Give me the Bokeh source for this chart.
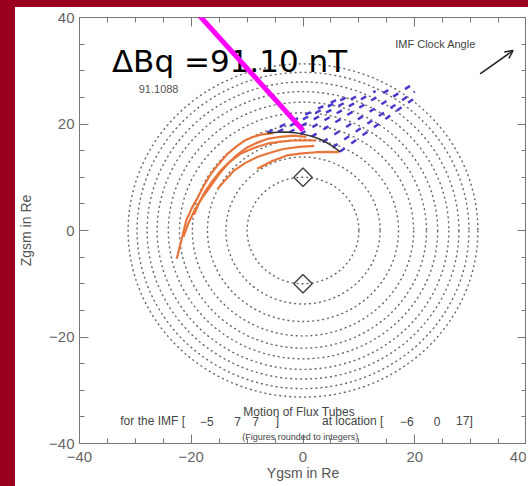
from bokeh.plotting import figure
from bokeh.models import (Label, Arrow, OpenHead, LinearAxis, FixedTicker,
                          CustomJSTickFormatter, Range1d)
from bokeh.layouts import column
from bokeh.embed import file_html
from bokeh.resources import INLINE

# ---------------- data ----------------
major_ticks = [-40, -20, 0, 20, 40]
minor_ticks = list(range(-40, 41, 5))

circle_radii = [10, 13.8, 17.1, 19.8, 22.1, 24.1, 26.1, 27.9, 29.7, 31.3]

orange_x = [
    [-22.6, -21.7, -20.9, -19.9, -18.8, -17.7, -16.5, -15.0, -13.5, -12.0, -10.6, -9.1, -7.6, -5.3],
    [-21.4, -20.5, -19.4, -18.0, -16.5, -15.0, -13.5, -11.8, -10.0, -8.2, -6.4, -4.0, -1.7, 0.6],
    [-19.5, -18.6, -17.6, -16.2, -14.7, -13.0, -11.2, -8.8, -6.4, -4.0, -1.7, 0.4, 2.4],
    [-15.3, -13.8, -12.3, -10.3, -8.2, -5.9, -3.5, -0.7, 2.0],
    [-8.2, -5.6, -2.9, -0.2, 2.4, 4.5, 6.5],
]
orange_y = [
    [-5.3, -1.6, 1.9, 4.2, 6.3, 8.5, 10.6, 12.6, 14.4, 15.7, 16.8, 17.5, 18.0, 18.3],
    [-1.2, 1.4, 3.8, 6.2, 8.4, 10.6, 12.5, 14.2, 15.6, 16.5, 17.2, 17.6, 17.8, 17.6],
    [3.0, 5.2, 7.2, 9.3, 11.3, 13.0, 14.4, 15.5, 16.3, 16.7, 16.9, 16.95, 16.9],
    [7.8, 9.6, 11.3, 12.7, 13.8, 14.6, 15.3, 15.7, 15.9],
    [11.6, 13.0, 14.1, 14.5, 14.7, 14.75, 14.7],
]

tube_x = [-6.4, -4.6, -3.0, -1.4, 0.0, 1.9, 3.6, 5.2, 6.6]
tube_y = [18.3, 18.45, 18.5, 18.35, 18.1, 17.6, 16.9, 15.9, 14.8]

motion_x0 = [-6.4, -4.5, -2.5, -0.5, 1.5, 3.5, 5.3, 6.6]
motion_y0 = [18.4, 18.5, 18.4, 18.1, 17.6, 16.6, 15.6, 14.8]
motion_x1 = [7.0, 8.1, 10.3, 13.0, 16.1, 19.5, 20.0, 20.0]
motion_y1 = [25.0, 25.2, 25.6, 26.2, 26.9, 27.4, 26.1, 24.9]

diamond_x = [0, 0]
diamond_y = [10, -10]

imf = [-5, 7, 7]
location = [-6, 0, 17]
delta_bq = 91.10
raw_value = "91.1088"

RED = "#9b001f"
GRAY = "#666666"
TXT = "#444444"
FONT = "Liberation Sans"

# ---------------- figure ----------------
p = figure(width=511, height=479, x_range=Range1d(-40, 40), y_range=Range1d(-40, 40),
           output_backend="svg", toolbar_location=None,
           min_border_left=62, min_border_top=10, min_border_bottom=43, min_border_right=0,
           background_fill_color="white", border_fill_color="white")
p.margin = (7, 0, 0, 15)
p.grid.visible = False
p.outline_line_color = "#777777"
p.outline_line_width = 1

fmt = CustomJSTickFormatter(code="return tick < 0 ? '\u2212' + Math.abs(tick) : String(tick);")
blank = CustomJSTickFormatter(code="return '';")

def style_axis(ax, labels=True):
    ax.ticker = FixedTicker(ticks=major_ticks, minor_ticks=minor_ticks)
    ax.formatter = fmt if labels else blank
    ax.axis_line_color = "#777777"
    ax.major_tick_line_color = "#777777"
    ax.minor_tick_line_color = "#777777"
    ax.major_tick_in = 9
    ax.major_tick_out = 0
    ax.minor_tick_in = 5
    ax.minor_tick_out = 0
    ax.major_label_text_font = FONT
    ax.major_label_text_color = GRAY
    ax.major_label_text_font_size = "15px" if labels else "1px"
    ax.axis_label_text_font = FONT
    ax.axis_label_text_font_style = "normal"
    ax.axis_label_text_color = "#555555"
    ax.axis_label_text_font_size = "14px"

style_axis(p.xaxis[0])
style_axis(p.yaxis[0])
p.xaxis[0].axis_label = "Ygsm in Re"
p.yaxis[0].axis_label = "Zgsm in Re"
p.xaxis[0].major_label_standoff = 8
p.xaxis[0].axis_label_standoff = 0
p.yaxis[0].major_label_standoff = 5
p.yaxis[0].axis_label_standoff = 12

top_ax = LinearAxis()
right_ax = LinearAxis()
for ax in (top_ax, right_ax):
    style_axis(ax, labels=False)
    ax.major_label_standoff = 0
    ax.axis_label_standoff = 0
p.add_layout(top_ax, "above")
p.add_layout(right_ax, "right")

# dotted circles
n = len(circle_radii)
p.ellipse(x=[0] * n, y=[0] * n, width=[2 * r for r in circle_radii],
          height=[2 * r for r in circle_radii], fill_alpha=0,
          line_color="#666666", line_dash="2 3", line_width=1.4)

# later flux tube positions (blue dashes)
p.segment(x0=motion_x0, y0=motion_y0, x1=motion_x1, y1=motion_y1,
          line_color="#4b3bcc", line_width=2.5, line_dash="6 8")

# orange flux tubes
p.multi_line(xs=orange_x, ys=orange_y, line_color="#e8763c", line_width=2.2)

# black tube
p.line(tube_x, tube_y, line_color="#333333", line_width=1.5)

# diamonds
p.scatter(diamond_x, diamond_y, marker="square", angle=0.785398, size=13,
          fill_alpha=0, line_color="#444444", line_width=1.5)

# texts
p.add_layout(Label(x=-34.2, y=31.9, text="\u0394Bq =%.2f nT" % delta_bq,
                   text_font="DejaVu Sans", text_font_size="31px",
                   text_baseline="middle", text_color="black"))
p.add_layout(Label(x=-29.4, y=26.6, text=raw_value, text_font=FONT,
                   text_font_size="11px", text_baseline="middle", text_color="#555555"))
p.add_layout(Label(x=16.5, y=35.1, text="IMF Clock Angle", text_font=FONT,
                   text_font_size="11px", text_baseline="middle", text_color=TXT))
p.add_layout(Arrow(x_start=31.7, y_start=29.4, x_end=37.6, y_end=33.8,
                   line_color="#222222", line_width=1.5,
                   end=OpenHead(size=8, line_color="#222222", line_width=1.5)))

def small(x, y, text, align="left", size="12px"):
    p.add_layout(Label(x=x, y=y, text=text, text_font=FONT, text_font_size=size,
                       text_align=align, text_baseline="middle", text_color=TXT))

def num(v):
    return str(v).replace("-", "\u2212")

small(-0.7, -34.0, "Motion of Flux Tubes", align="center")
small(-32.7, -35.8, "for the IMF [")
for xv, v in zip([-17.2, -11.7, -8.5], imf):
    small(xv, -35.8, num(v), align="center")
small(-4.6, -35.8, "]", align="center")
small(3.4, -35.8, "at location [")
small(18.6, -35.8, num(location[0]), align="center")
small(24.0, -35.8, num(location[1]), align="center")
small(27.4, -35.8, num(location[2]) + "]")
small(-0.5, -38.8, "(Figures rounded to integers)", align="center", size="9px")

# magenta pointer
p.add_layout(Arrow(x_start=-20.9, y_start=43.1, x_end=0.0, y_end=18.8,
                   line_color="#ff00ff", line_width=5, end=None))

bg = ("linear-gradient(%s,%s) 0 0/15px 100%% no-repeat, "
      "linear-gradient(%s,%s) 0 0/100%% 7px no-repeat, #ffffff") % (RED, RED, RED, RED)
root = column(p, width=528, height=486, styles={"background": bg, "overflow": "hidden"})

open("out.html", "w").write(file_html(root, INLINE))
